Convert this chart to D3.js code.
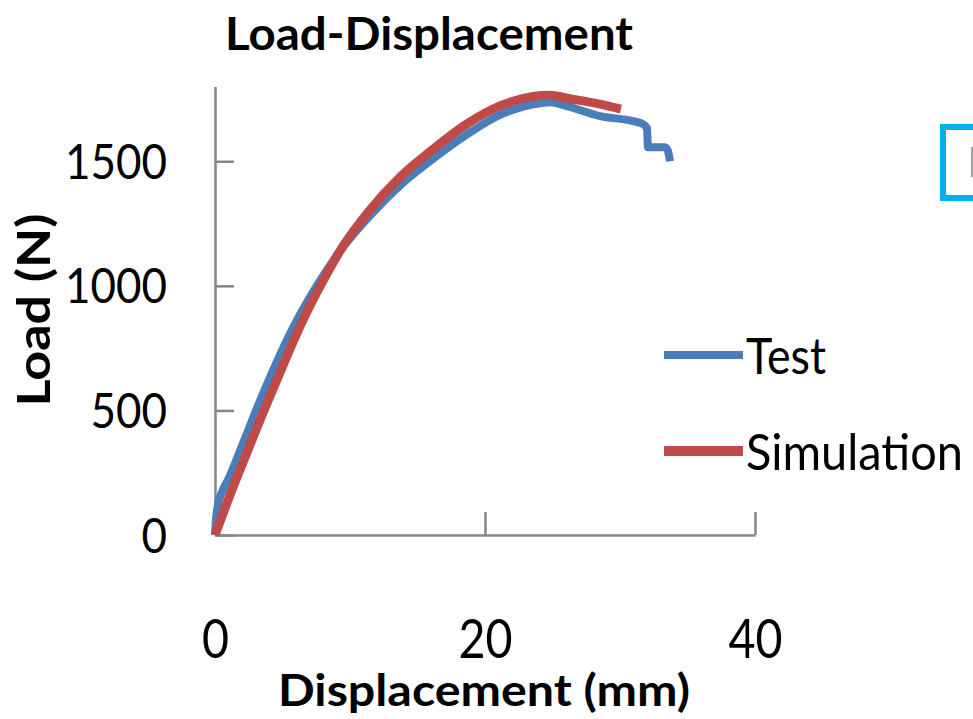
<!DOCTYPE html>
<html>
<head>
<meta charset="utf-8">
<script src="https://cdn.jsdelivr.net/npm/d3@7"></script>
<style>
  html, body { margin: 0; padding: 0; background: #ffffff; }
  svg { display: block; }
  text { font-family: Lato, "Open Sans", "Liberation Sans", sans-serif; fill: #000; }
</style>
</head>
<body>
<svg id="chart" width="973" height="719"></svg>
<script>
// ---- data ----
const seriesNames = ["Test", "Simulation"];
const testDisp = [0, 0.07, 0.22, 0.52, 0.96, 2.00, 2.89, 3.93, 5.04, 6.10, 7.48, 9.41, 11.63, 13.85, 16.15, 18.67, 21.11, 23.56, 24.81, 26.07, 28.52, 30.96, 31.70, 32.00, 32.07, 33.33, 33.56, 33.70];
const testLoad = [0, 60, 121, 173, 221, 358, 480, 615, 750, 865, 995, 1150, 1290, 1410, 1510, 1608, 1686, 1728, 1737, 1721, 1681, 1661, 1649, 1633, 1556, 1556, 1540, 1500];
const simDisp = [0, 1.26, 2.30, 3.41, 4.59, 5.70, 6.80, 8.00, 9.26, 11.41, 13.70, 16.15, 18.67, 21.11, 23.56, 24.81, 26.07, 28.52, 30.07];
const simLoad = [0, 181, 322, 471, 623, 765, 895, 1020, 1140, 1300, 1436, 1548, 1650, 1722, 1760, 1765, 1753, 1729, 1709];
const xTicks = [0, 20, 40];
const yTicks = [0, 500, 1000, 1500];
const xDomain = [0, 40];
const yDomain = [0, 1800];
const colors = ["#4A7EBB", "#BE4B48"];

// ---- drawing ----
const svg = d3.select("#chart");
svg.append("rect").attr("width", 973).attr("height", 719).attr("fill", "#fff");

const x = d3.scaleLinear().domain(xDomain).range([215, 755]);
const y = d3.scaleLinear().domain(yDomain).range([535, 86.5]);
const axisColor = "#868686";

// x axis
const gx = svg.append("g").attr("transform", "translate(0,535)")
  .call(d3.axisBottom(x).tickValues(xTicks).tickSizeInner(-23).tickSizeOuter(0).tickFormat(d3.format("d")));
gx.selectAll("path.domain, line").attr("stroke", axisColor).attr("stroke-width", 2.5);
gx.selectAll("text")
  .attr("y", 123).attr("dy", 0)
  .attr("font-size", 55)
  .attr("textLength", d => String(d).length * 27)
  .attr("lengthAdjust", "spacingAndGlyphs")
  .attr("fill", "#000");

// y axis
const gy = svg.append("g").attr("transform", "translate(215,0)")
  .call(d3.axisLeft(y).tickValues(yTicks).tickSizeInner(-19).tickSizeOuter(0).tickPadding(48).tickFormat(d3.format("d")));
gy.selectAll("path.domain, line").attr("stroke", axisColor).attr("stroke-width", 2.5);
gy.selectAll("text")
  .attr("dy", 17)
  .attr("font-size", 49)
  .attr("textLength", d => String(d).length * 25.5)
  .attr("lengthAdjust", "spacingAndGlyphs")
  .attr("fill", "#000");

// lines
const line = d3.line().x(d => x(d[0])).y(d => y(d[1])).curve(d3.curveMonotoneX);
const testData = testDisp.map((d, i) => [d, testLoad[i]]);
const simData = simDisp.map((d, i) => [d, simLoad[i]]);
svg.append("path").datum(testData).attr("d", line)
  .attr("fill", "none").attr("stroke", colors[0]).attr("stroke-width", 8)
  .attr("stroke-linejoin", "round").attr("stroke-linecap", "butt");
svg.append("path").datum(simData).attr("d", line)
  .attr("fill", "none").attr("stroke", colors[1]).attr("stroke-width", 9)
  .attr("stroke-linejoin", "round").attr("stroke-linecap", "butt");

// titles
svg.append("text").attr("x", 225).attr("y", 50)
  .attr("font-size", 45).attr("font-weight", "bold")
  .attr("textLength", 408).attr("lengthAdjust", "spacingAndGlyphs")
  .text("Load-Displacement");
svg.append("text").attr("x", 278).attr("y", 706)
  .attr("font-size", 44).attr("font-weight", "bold")
  .attr("textLength", 412).attr("lengthAdjust", "spacingAndGlyphs")
  .text("Displacement (mm)");
svg.append("text").attr("transform", "translate(50,310) rotate(-90)")
  .attr("text-anchor", "middle")
  .attr("font-size", 46).attr("font-weight", "bold")
  .attr("textLength", 193).attr("lengthAdjust", "spacingAndGlyphs")
  .text("Load (N)");

// legend
const legendY = [355, 451];
const legendLen = [80, 217];
seriesNames.forEach((name, i) => {
  svg.append("line").attr("x1", 664).attr("x2", 743).attr("y1", legendY[i]).attr("y2", legendY[i])
    .attr("stroke", colors[i]).attr("stroke-width", i === 0 ? 8 : 10);
  svg.append("text").attr("x", 746).attr("y", legendY[i] + 19)
    .attr("font-size", 50)
    .attr("textLength", legendLen[i]).attr("lengthAdjust", "spacingAndGlyphs")
    .text(name);
});

// cut-off selection box at right edge
svg.append("rect").attr("x", 943).attr("y", 127).attr("width", 60).attr("height", 71)
  .attr("fill", "none").attr("stroke", "#00B0F0").attr("stroke-width", 6);
svg.append("line").attr("x1", 972).attr("x2", 972).attr("y1", 147).attr("y2", 177)
  .attr("stroke", "#7f7f7f").attr("stroke-width", 1.5);
</script>
</body>
</html>
